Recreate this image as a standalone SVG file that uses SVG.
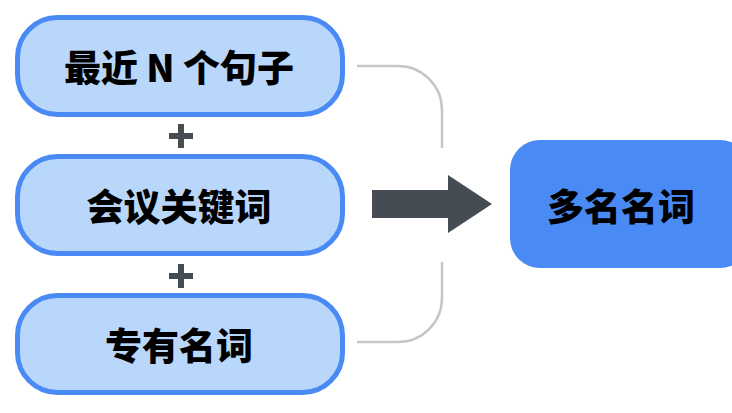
<svg xmlns="http://www.w3.org/2000/svg" width="732" height="413" viewBox="0 0 732 413">
<style>
.src rect{fill:#b9d6fb;stroke:#4a8af5;stroke-width:5}
.t{font-family:"Noto Sans CJK SC","Noto Sans",sans-serif;font-weight:900;font-size:37px;fill:#000;text-anchor:middle;dominant-baseline:central}
.plus{fill:#454c53}
.br{fill:none;stroke:#c6c6c6;stroke-width:2.5}
</style>
<rect width="732" height="413" fill="#fff"/>
<g id="n1" class="src"><rect x="17.5" y="17.5" width="325" height="97" rx="40"/><text class="t" x="179" y="66">最近 N 个句子</text></g>
<g id="n2" class="src"><rect x="17.5" y="156.5" width="325" height="97" rx="40"/><text class="t" x="179" y="205">会议关键词</text></g>
<g id="n3" class="src"><rect x="17.5" y="295.5" width="325" height="97" rx="40"/><text class="t" x="179" y="344">专有名词</text></g>
<g id="plus1" class="plus"><rect x="169" y="133" width="24" height="6"/><rect x="178" y="124" width="6" height="24"/></g>
<g id="plus2" class="plus"><rect x="169" y="273" width="24" height="6"/><rect x="178" y="264" width="6" height="24"/></g>
<g id="out"><rect x="510" y="140" width="240" height="128" rx="30" fill="#4a8af5"/><text class="t" x="621" y="205">多名名词</text></g>
<g id="connectors">
<path class="br" d="M357 66 H398 A44 44 0 0 1 442 110 V148"/>
<path class="br" d="M442 262 V298 A44 44 0 0 1 398 342 H357"/>
<path d="M372 190 H448 V175 L492 204 L448 233 V218 H372 Z" fill="#454c53"/>
</g>
</svg>
